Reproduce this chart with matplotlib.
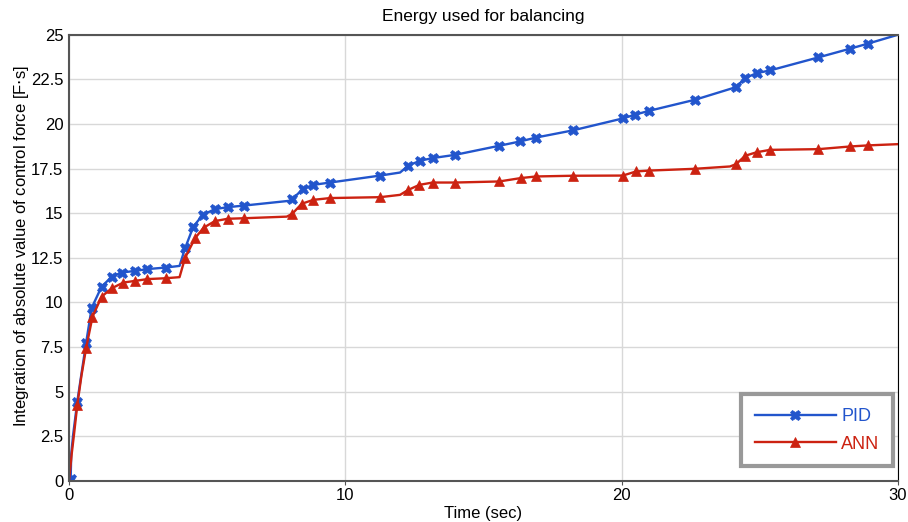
import numpy as np
import matplotlib
matplotlib.use("Agg")
import matplotlib.pyplot as plt

plt.rcParams['font.family'] = ['Liberation Sans', 'DejaVu Sans']

# PID curve (time [s], integral [F*s]); mk = marker drawn at that point
pid_t = [0.0, 0.06, 0.08, 0.15, 0.30, 0.45, 0.62, 0.82, 1.18, 1.55, 1.91, 2.39, 2.83, 3.51,
         4.00, 4.20, 4.50, 4.84, 5.28, 5.74, 6.34, 8.00, 8.08, 8.46, 8.84, 9.45, 11.26,
         11.98, 12.28, 12.70, 13.16, 13.97, 15.57, 16.32, 16.90, 18.23, 20.04, 20.48,
         21.00, 22.66, 23.92, 24.14, 24.47, 24.89, 25.37, 27.12, 28.27, 28.91, 30.0]
pid_y = [0.0, 0.12, 1.5, 2.6, 4.45, 6.0, 7.75, 9.70, 10.89, 11.45, 11.68, 11.77, 11.87, 11.96,
         12.05, 13.04, 14.25, 14.91, 15.23, 15.34, 15.43, 15.70, 15.79, 16.35, 16.59, 16.72, 17.11,
         17.28, 17.67, 17.94, 18.09, 18.27, 18.78, 19.02, 19.24, 19.64, 20.31, 20.52,
         20.74, 21.36, 21.96, 22.07, 22.57, 22.85, 23.00, 23.73, 24.22, 24.50, 25.0]
pid_mk = [1, 1, 0, 0, 1, 0, 1, 1, 1, 1, 1, 1, 1, 1,
          0, 1, 1, 1, 1, 1, 1, 0, 1, 1, 1, 1, 1,
          0, 1, 1, 1, 1, 1, 1, 1, 1, 1, 1,
          1, 1, 0, 1, 1, 1, 1, 1, 1, 1, 0]

# ANN curve
ann_t = [0.0, 0.10, 0.18, 0.30, 0.45, 0.62, 0.85, 1.18, 1.55, 1.97, 2.39, 2.83, 3.51,
         4.00, 4.20, 4.56, 4.87, 5.28, 5.74, 6.34, 7.88, 8.08, 8.42, 8.84, 9.45, 11.26,
         11.98, 12.28, 12.68, 13.16, 13.97, 15.57, 16.35, 16.90, 18.23, 20.04, 20.52,
         21.00, 22.66, 23.92, 24.14, 24.47, 24.89, 25.37, 27.12, 28.27, 28.91, 30.0]
ann_y = [0.0, 1.55, 2.6, 4.26, 5.9, 7.45, 9.20, 10.33, 10.80, 11.12, 11.21, 11.31, 11.36,
         11.42, 12.50, 13.60, 14.19, 14.56, 14.69, 14.72, 14.81, 14.97, 15.53, 15.75, 15.85, 15.90,
         16.03, 16.31, 16.59, 16.72, 16.72, 16.78, 16.97, 17.06, 17.10, 17.11, 17.34,
         17.39, 17.49, 17.62, 17.75, 18.22, 18.42, 18.55, 18.59, 18.74, 18.80, 18.87]
ann_mk = [0, 0, 0, 1, 0, 1, 1, 1, 1, 1, 1, 1, 1,
          0, 1, 1, 1, 1, 1, 1, 0, 1, 1, 1, 1, 1,
          0, 1, 1, 1, 1, 1, 1, 1, 1, 1, 1,
          1, 1, 0, 1, 1, 1, 1, 1, 1, 1, 0]

blue = '#2255cc'
red = '#cc2211'

fig = plt.figure(figsize=(9.08, 5.22), dpi=100)
ax = fig.add_axes([0.076, 0.0785, 0.913, 0.855])

ax.plot(pid_t, pid_y, '-', color=blue, lw=1.7, marker='X', markersize=7.5,
        markeredgewidth=0.5, markevery=[i for i, m in enumerate(pid_mk) if m], label='PID')
ax.plot(ann_t, ann_y, '-', color=red, lw=1.7, marker='^', markersize=7,
        markeredgewidth=0.5, markevery=[i for i, m in enumerate(ann_mk) if m], label='ANN')

ax.set_xlim(0, 30)
ax.set_ylim(0, 25)
ax.set_xticks([0, 10, 20, 30])
yt = np.arange(0, 25.1, 2.5)
ax.set_yticks(yt)
ax.set_yticklabels(['%g' % v for v in yt])
ax.tick_params(axis='both', labelsize=12, length=3, color='#555555', pad=2)
ax.tick_params(axis='y', length=0, pad=4)
ax.grid(True, color='#d8d8d8', lw=1)
ax.set_axisbelow(True)
for s in ['left', 'bottom', 'top']:
    ax.spines[s].set_color('#555555')
    ax.spines[s].set_linewidth(1.5)
ax.spines['right'].set_color('black')

ax.set_title('Energy used for balancing', fontsize=12.5, pad=10)
ax.set_xlabel('Time (sec)', fontsize=12, labelpad=2)
ax.set_ylabel('Integration of absolute value of control force [F$\\cdot$s]', fontsize=12)
ax.yaxis.set_label_coords(-0.046, 0.527)

leg = ax.legend(loc='lower right', bbox_to_anchor=(0.994, 0.033), fontsize=13, handlelength=4.5,
                handletextpad=0.3, fancybox=False, framealpha=1, borderpad=0.75,
                labelspacing=0.6, borderaxespad=0)
leg.get_frame().set_edgecolor('#999999')
leg.get_frame().set_linewidth(3)
for txt, c in zip(leg.get_texts(), [blue, red]):
    txt.set_color(c)

fig.savefig('out.png', dpi=100)
